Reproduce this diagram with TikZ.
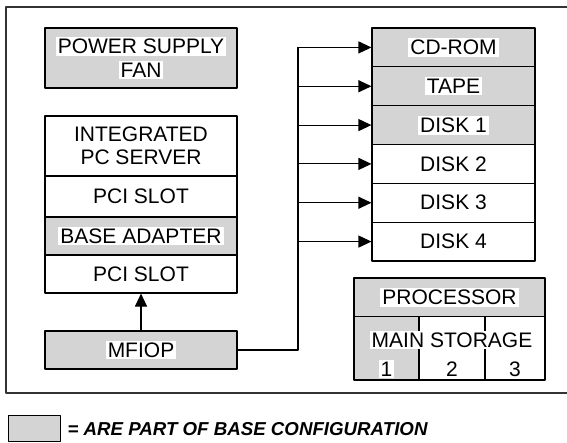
\documentclass[tikz,border=0pt]{standalone}
\usepackage{fontspec}
\setmainfont{Liberation Sans}
\usetikzlibrary{arrows.meta}
\definecolor{basegray}{RGB}{212,212,212}
\newcommand{\wbg}[1]{{\setlength{\fboxsep}{2pt}\colorbox{white}{#1}}}
\begin{document}
\begin{tikzpicture}[x=1pt,y=-1pt,line join=round,font=\fontsize{21}{22.5}\selectfont,
  >={Triangle[length=13pt,width=12pt]},
  box/.style={draw,line width=1.1pt,inner sep=0pt,align=center,minimum width=192pt},
  base/.style={box,fill=basegray},
  dev/.style={box,minimum width=163pt,minimum height=38.83pt}]
\useasboundingbox (0,0) rectangle (567,442);
\def \rowh{38.83}
% frame, open on the right
\draw[line width=1.2pt,black!80] (567,7) -- (6,7) -- (6,393) -- (567,393);
% left side
\node[base,minimum height=60pt] (psu) at (141,58) {\wbg{POWER SUPPLY}\\[1pt]\wbg{FAN}};
\node[box,minimum height=60pt] (ips) at (141,146) {INTEGRATED\\PC SERVER};
\node[box,minimum height=41pt] (slota) at (141,196.5) {PCI SLOT};
\node[base,minimum height=38pt] (adapter) at (141,236) {\wbg{BASE ADAPTER}};
\node[box,minimum height=38pt] (slotb) at (141,274) {PCI SLOT};
\node[base,minimum height=38pt] (mfiop) at (141,350) {\wbg{MFIOP}};
\draw[->,line width=1.1pt] (mfiop) -- (slotb);
% devices
\foreach \i/\t/\s in {0/CD-ROM/base,1/TAPE/base,2/DISK 1/base,3/DISK 2/dev,4/DISK 3/dev,5/DISK 4/dev}
  \node[dev,\s,minimum width=163pt,minimum height=\rowh pt] (d\i) at (453.5,{28+\rowh/2+\i*\rowh}) {\wbg{\t}};
\coordinate (bus) at (298,0 |- d0);
\draw[line width=1.1pt] (mfiop.east) -| (bus);
\foreach \i in {0,...,5}{\draw[->,line width=1.1pt] (bus |- d\i) -- (d\i.west);}
% processor and main storage
\node[base,minimum width=191pt,minimum height=38.5pt] (proc) at (449.5,297.25) {\wbg{PROCESSOR}};
\node[base,minimum width=65pt,minimum height=63.5pt] (ms1) at (386.5,348.25) {};
\node[box,minimum width=66pt,minimum height=63.5pt] (ms2) at (452,348.25) {};
\node[box,minimum width=60pt,minimum height=63.5pt] (ms3) at (515,348.25) {};
\node (mslabel) at (452,340) {\wbg{MAIN STORAGE}};
\foreach \i/\x in {1/386.5,2/452,3/515}{\node (n\i) at (\x,369) {\wbg{\i}};}
% key
\node[draw,fill=basegray,line width=0.9pt,minimum width=52pt,minimum height=26pt] (key) at (34,428) {};
\node[anchor=west,font=\fontsize{18.7}{20}\selectfont\bfseries\itshape] (keytext) at (64,429) {= ARE PART OF BASE CONFIGURATION};
\end{tikzpicture}
\end{document}
